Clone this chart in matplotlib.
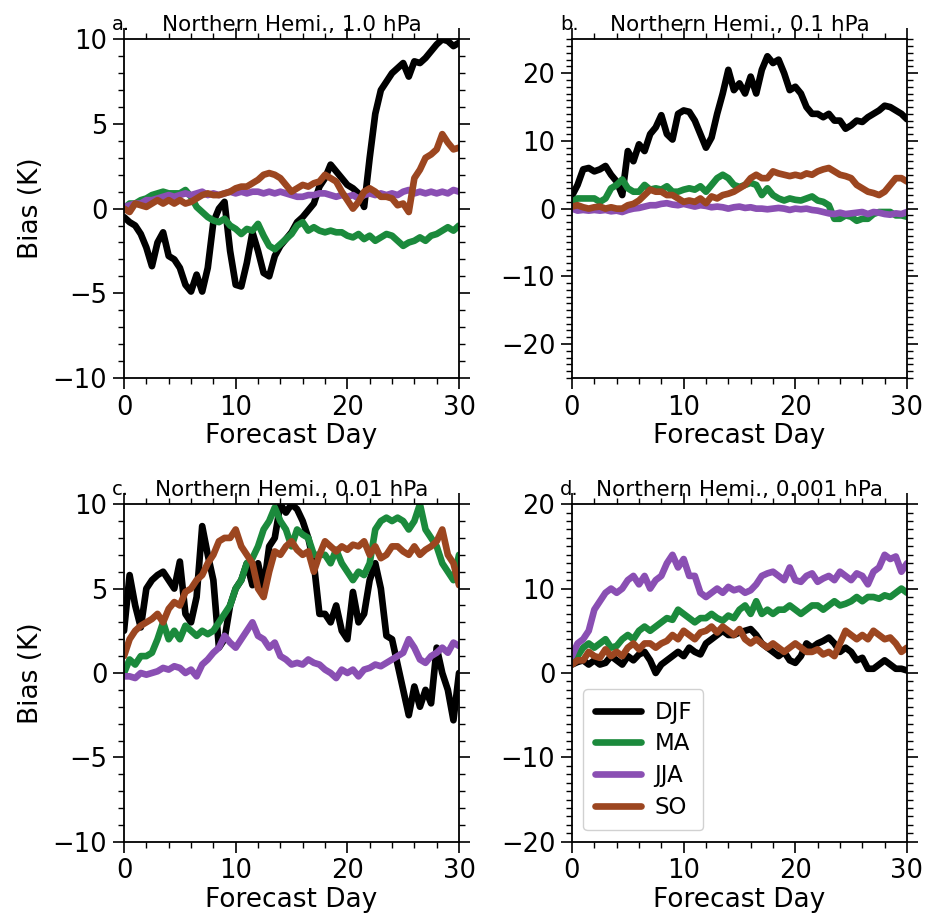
import numpy as np
import matplotlib
matplotlib.use("Agg")
import matplotlib.pyplot as plt
from matplotlib.ticker import MultipleLocator

# Forecast days (half-day spacing)
days = np.arange(0, 30.01, 0.5)

seasons = ["DJF", "MA", "JJA", "SO"]
colors = {"DJF": "#000000", "MA": "#1b8a3c", "JJA": "#8a4fb3", "SO": "#9c4620"}

# ---- panel a: 1.0 hPa ----
a_djf = [-0.5, -0.8, -1.0, -1.5, -2.3, -3.4, -2.0, -1.4, -2.8, -3.0,
         -3.5, -4.5, -4.9, -3.9, -4.9, -3.5, -0.8, 0.0, 0.4, -2.5,
         -4.5, -4.6, -3.2, -1.4, -2.5, -3.8, -4.0, -2.8, -2.2, -1.8,
         -1.4, -0.8, -0.5, -0.1, 0.3, 1.3, 1.8, 2.6, 2.2, 1.8,
         1.4, 1.2, 0.9, 0.1, 3.0, 5.6, 7.0, 7.5, 8.0, 8.3,
         8.6, 7.8, 8.7, 8.6, 8.9, 9.3, 9.7, 10.0, 9.9, 9.6,
         9.8]
a_ma = [0.0, 0.3, 0.3, 0.5, 0.6, 0.8, 0.9, 1.0, 0.9, 0.9,
        0.9, 1.1, 0.7, 0.1, -0.2, -0.5, -0.7, -0.8, -0.6, -1.0,
        -1.2, -1.5, -1.2, -1.3, -0.9, -1.6, -2.2, -2.4, -2.1, -1.8,
        -1.5, -1.0, -0.8, -1.3, -1.1, -1.3, -1.4, -1.3, -1.4, -1.4,
        -1.6, -1.7, -1.5, -1.8, -1.6, -1.9, -1.7, -1.5, -1.6, -1.9,
        -2.2, -2.0, -1.9, -1.7, -1.9, -1.6, -1.5, -1.3, -1.1, -1.3,
        -1.0]
a_jja = [0.1, 0.2, 0.3, 0.3, 0.5, 0.5, 0.6, 0.7, 0.8, 0.7,
         0.8, 0.9, 0.8, 0.9, 1.0, 0.8, 0.9, 0.8, 0.9, 1.0,
         0.9, 1.0, 0.9, 1.0, 1.0, 0.9, 1.0, 0.9, 1.0, 0.9,
         0.8, 0.7, 0.7, 0.8, 0.8, 0.9, 0.9, 0.8, 0.7, 0.8,
         0.7, 0.8, 0.6, 0.8, 0.9, 0.8, 0.9, 0.8, 0.9, 0.8,
         1.0, 1.1, 0.9, 1.0, 0.9, 1.0, 0.9, 1.0, 0.9, 1.1,
         1.0]
a_so = [0.0, -0.2, 0.3, 0.2, 0.1, 0.3, 0.5, 0.3, 0.5, 0.3,
        0.5, 0.3, 0.4, 0.6, 0.8, 0.9, 0.8, 0.8, 0.9, 1.0,
        1.2, 1.3, 1.3, 1.5, 1.7, 2.0, 2.1, 2.0, 1.8, 1.4,
        1.0, 1.2, 1.4, 1.3, 1.5, 1.6, 2.0, 1.8, 1.6, 1.0,
        0.5, 0.0, 0.4, 1.0, 1.2, 1.0, 0.7, 0.7, 0.6, 0.2,
        0.3, -0.2, 1.8, 2.3, 3.0, 3.2, 3.5, 4.4, 3.9, 3.5,
        3.6]

# ---- panel b: 0.1 hPa ----
b_djf = [1.9, 3.5, 5.8, 6.0, 5.5, 5.8, 6.3, 5.0, 4.0, 2.0,
         8.5, 7.0, 9.5, 8.5, 11.0, 12.0, 13.8, 11.0, 10.2, 14.0,
         14.5, 14.3, 13.0, 11.0, 9.0, 10.5, 14.0, 17.0, 20.5, 17.5,
         18.5, 17.0, 19.5, 17.0, 20.5, 22.5, 21.5, 22.0, 20.0, 17.5,
         18.0, 17.0, 15.0, 14.0, 14.0, 13.5, 14.0, 13.0, 13.0, 11.8,
         12.3, 13.0, 12.8, 13.5, 14.0, 14.5, 15.2, 15.0, 14.5, 14.0,
         13.2]
b_ma = [1.0, 1.5, 1.5, 1.5, 1.5, 1.0, 1.5, 3.0, 3.5, 4.3,
        3.0, 2.5, 2.5, 3.5, 2.8, 3.0, 2.8, 3.3, 2.5, 2.5,
        2.8, 3.0, 2.8, 3.3, 2.5, 3.5, 4.5, 5.0, 4.5, 3.5,
        3.2, 3.5, 3.8, 3.5, 2.0, 3.0, 2.0, 1.5, 1.2, 1.5,
        1.3, 1.2, 1.5, 1.8, 1.2, 1.0, 0.5, -1.5, -1.5, -1.0,
        -1.2, -1.8, -1.5, -1.5, -0.8, -0.5, -0.5, -0.5, -1.0, -1.0,
        -1.2]
b_jja = [0.0, -0.3, -0.2, -0.3, -0.2, -0.3, -0.2, -0.4, -0.3, -0.5,
         -0.2, 0.0, 0.1, 0.3, 0.5, 0.5, 0.7, 0.8, 0.6, 0.5,
         0.7, 0.5, 0.3, 0.5, 0.4, 0.2, 0.3, 0.2, 0.0, 0.2,
         0.3, 0.1, 0.2, 0.0, 0.0, -0.1, 0.0, 0.1, 0.0, -0.2,
         0.0, -0.1, 0.0, -0.2, -0.3, -0.5, -0.7, -0.8, -0.6, -0.8,
         -0.7, -0.6, -0.5, -0.8, -0.5, -0.6, -0.8, -0.9, -0.7, -0.8,
         -0.5]
b_so = [0.3, 0.5, 0.2, 0.0, 0.2, 0.3, 0.0, 0.2, 0.0, 0.0,
        0.5, 0.7, 1.2, 2.0, 2.8, 2.5, 2.5, 2.0, 2.0, 1.5,
        1.0, 1.2, 1.0, 1.5, 0.8, 1.8, 1.5, 2.0, 2.2, 2.5,
        3.0, 3.5, 4.5, 5.0, 4.5, 4.5, 5.5, 5.2, 5.0, 4.8,
        5.0, 4.8, 5.2, 5.0, 5.5, 5.8, 6.0, 5.5, 5.0, 4.8,
        4.5, 3.5, 3.0, 2.5, 2.3, 2.0, 2.5, 3.5, 4.5, 4.5,
        4.0]

# ---- panel c: 0.01 hPa ----
c_djf = [2.5, 5.8, 4.0, 2.7, 5.0, 5.5, 5.8, 6.0, 5.5, 5.0,
         6.6, 3.5, 3.0, 4.5, 8.7, 7.0, 5.5, 1.5, 2.0, 4.0,
         5.0, 5.5, 6.5, 5.2, 6.5, 5.0, 7.5, 8.0, 10.0, 9.5,
         10.0, 9.7, 9.0, 8.0, 6.5, 3.5, 3.5, 3.0, 4.0, 2.5,
         2.0, 4.8, 3.0, 3.5, 5.5, 6.5, 5.0, 2.2, 2.0, 0.5,
         -1.0, -2.5, -0.8, -2.0, -1.0, -1.8, 1.5, 0.0, -1.0, -2.8,
         0.0]
c_ma = [0.0, 0.8, 0.5, 1.0, 1.0, 1.2, 2.0, 3.0, 2.0, 2.5,
        2.0, 2.8, 2.5, 2.2, 2.5, 2.3, 2.5, 3.0, 3.5, 4.0,
        5.0, 5.5, 6.5, 6.8, 7.5, 8.5, 9.0, 9.8, 9.0, 8.5,
        7.5, 8.5, 8.2, 8.0, 7.0, 7.0, 7.0, 6.5, 7.3, 6.5,
        6.0, 5.5, 6.0, 5.8, 6.5, 8.5, 9.0, 9.2, 9.0, 9.2,
        9.0, 8.5, 9.0, 10.0, 8.5, 8.0, 7.5, 6.5, 6.0, 5.5,
        7.0]
c_jja = [-0.2, -0.2, -0.3, 0.0, -0.1, 0.0, 0.1, 0.3, 0.2, 0.4,
         0.3, 0.0, 0.2, -0.2, 0.5, 0.8, 1.2, 1.5, 2.2, 1.8,
         1.5, 2.0, 2.5, 3.0, 2.2, 2.0, 1.5, 1.8, 1.0, 0.8,
         0.5, 0.6, 0.5, 0.8, 0.6, 0.5, 0.2, 0.0, -0.3, 0.2,
         0.0, 0.2, -0.2, 0.2, 0.3, 0.5, 0.4, 0.6, 0.8, 1.0,
         1.2, 2.0, 1.5, 0.8, 0.6, 1.0, 1.2, 1.5, 1.2, 1.8,
         1.6]
c_so = [1.0, 2.0, 2.5, 2.8, 3.0, 3.2, 3.5, 3.0, 3.8, 4.2,
        4.0, 4.8, 5.0, 5.5, 5.8, 6.5, 7.0, 7.8, 8.0, 8.0,
        8.5, 7.5, 7.0, 6.5, 5.0, 4.5, 6.0, 7.2, 7.0, 7.5,
        7.8, 7.3, 7.0, 7.2, 6.0, 7.0, 7.8, 7.5, 7.2, 7.5,
        7.3, 7.6, 7.5, 7.8, 7.0, 7.5, 6.8, 7.0, 7.5, 7.5,
        7.2, 7.0, 7.5, 7.0, 7.3, 7.5, 7.8, 8.5, 7.0, 6.5,
        5.2]

# ---- panel d: 0.001 hPa ----
d_djf = [1.0, 1.3, 1.5, 1.0, 1.5, 1.0, 1.2, 2.0, 1.5, 1.0,
         2.0, 1.5, 2.2, 2.5, 1.5, 0.0, 1.0, 1.5, 2.0, 2.5,
         2.0, 3.0, 2.5, 2.2, 3.5, 4.0, 4.5, 5.0, 4.5, 4.5,
         4.8, 5.0, 5.2, 4.5, 3.5, 3.0, 2.5, 2.0, 2.5, 1.5,
         1.2, 2.0, 3.5, 3.0, 3.5, 3.8, 4.2, 3.5, 2.5, 3.0,
         2.5, 1.5, 1.8, 0.5, 0.5, 1.0, 1.5, 1.0, 0.5, 0.5,
         0.3]
d_ma = [1.5, 2.0, 3.0, 3.5, 3.0, 3.5, 4.0, 3.0, 3.2, 4.0,
        4.5, 4.0, 5.0, 5.5, 5.0, 5.5, 6.0, 6.5, 6.3, 7.5,
        7.0, 6.5, 6.0, 6.5, 6.5, 7.0, 6.5, 6.2, 6.8, 6.5,
        7.5, 8.0, 7.0, 8.5, 7.0, 7.5, 7.0, 7.5, 7.5, 8.0,
        7.5, 7.0, 7.5, 8.0, 8.0, 7.5, 8.0, 8.5, 8.0, 8.2,
        8.5, 9.0, 8.5, 9.0, 9.0, 8.8, 9.2, 9.0, 9.5, 10.0,
        9.5]
d_jja = [2.0, 3.5, 4.0, 5.0, 7.5, 8.5, 9.5, 10.0, 9.5, 10.0,
         11.0, 11.5, 10.5, 11.5, 10.0, 11.0, 11.5, 13.0, 14.0, 12.5,
         13.5, 11.5, 11.5, 9.5, 9.0, 9.5, 10.0, 9.5, 10.2, 9.8,
         10.0, 9.5, 9.8, 10.5, 11.5, 11.8, 12.0, 11.5, 11.0, 12.5,
         11.0, 10.8, 11.5, 11.8, 10.8, 11.2, 11.5, 11.0, 12.0, 11.5,
         11.0, 11.8, 11.5, 10.5, 12.0, 12.5, 14.0, 13.5, 13.8, 12.0,
         13.0]
d_so = [1.0, 1.5, 1.5, 2.5, 2.0, 1.8, 2.8, 2.0, 2.5, 2.0,
        3.0, 3.5, 2.8, 3.5, 3.5, 3.0, 3.5, 3.8, 4.5, 4.0,
        5.0, 4.5, 4.0, 4.8, 5.0, 5.5, 4.8, 5.5, 5.0, 4.5,
        5.2, 4.0, 3.5, 4.0, 3.5, 3.0, 3.5, 3.0, 2.5, 3.0,
        3.5, 3.0, 2.5, 2.5, 2.8, 2.2, 2.5, 2.0, 3.5, 5.0,
        4.5, 4.0, 4.5, 4.0, 5.0, 4.5, 4.0, 4.2, 3.5, 2.5,
        3.0]

panels = [
    ("a.", "Northern Hemi., 1.0 hPa", (-10, 10), 5, [a_djf, a_ma, a_jja, a_so]),
    ("b.", "Northern Hemi., 0.1 hPa", (-25, 25), 10, [b_djf, b_ma, b_jja, b_so]),
    ("c.", "Northern Hemi., 0.01 hPa", (-10, 10), 5, [c_djf, c_ma, c_jja, c_so]),
    ("d.", "Northern Hemi., 0.001 hPa", (-20, 20), 10, [d_djf, d_ma, d_jja, d_so]),
]

fig = plt.figure(figsize=(9.29, 9.15), dpi=100)
boxes = [
    (0.1335, 0.587, 0.3606, 0.370),
    (0.6157, 0.587, 0.3606, 0.370),
    (0.1335, 0.080, 0.3606, 0.369),
    (0.6157, 0.080, 0.3606, 0.369),
]

for i, ((tag, title, ylim, major, series), box) in enumerate(zip(panels, boxes)):
    ax = fig.add_axes(box)
    for name, vals in zip(seasons, series):
        ax.plot(days, vals, color=colors[name], lw=4.8, label=name,
                solid_joinstyle="round", solid_capstyle="round")
    ax.set_xlim(0, 30)
    ax.set_ylim(*ylim)
    ax.xaxis.set_major_locator(MultipleLocator(10))
    ax.xaxis.set_minor_locator(MultipleLocator(2))
    ax.yaxis.set_major_locator(MultipleLocator(major))
    ax.yaxis.set_minor_locator(MultipleLocator(1))
    ax.tick_params(which="both", direction="out", top=True, right=True,
                   labeltop=False, labelright=False)
    ax.tick_params(which="major", length=8, width=1.2, labelsize=18.5, pad=4)
    ax.tick_params(which="minor", length=4, width=1.0)
    for sp in ax.spines.values():
        sp.set_linewidth(1.3)
    ax.set_xlabel("Forecast Day", fontsize=19, labelpad=2)
    if i % 2 == 0:
        ax.set_ylabel("Bias (K)", fontsize=19, labelpad=6)
    ax.set_title(title, fontsize=15.5, pad=6)
    ax.text(-0.036, 1.027, tag, transform=ax.transAxes, fontsize=14,
            ha="left", va="baseline")
    if i == 3:
        ax.legend(loc="lower left", fontsize=16.5, handlelength=2.0,
                  borderpad=0.5, labelspacing=0.38, handletextpad=0.6,
                  borderaxespad=0.5, framealpha=0.9)

fig.savefig("out.png", dpi=100)
